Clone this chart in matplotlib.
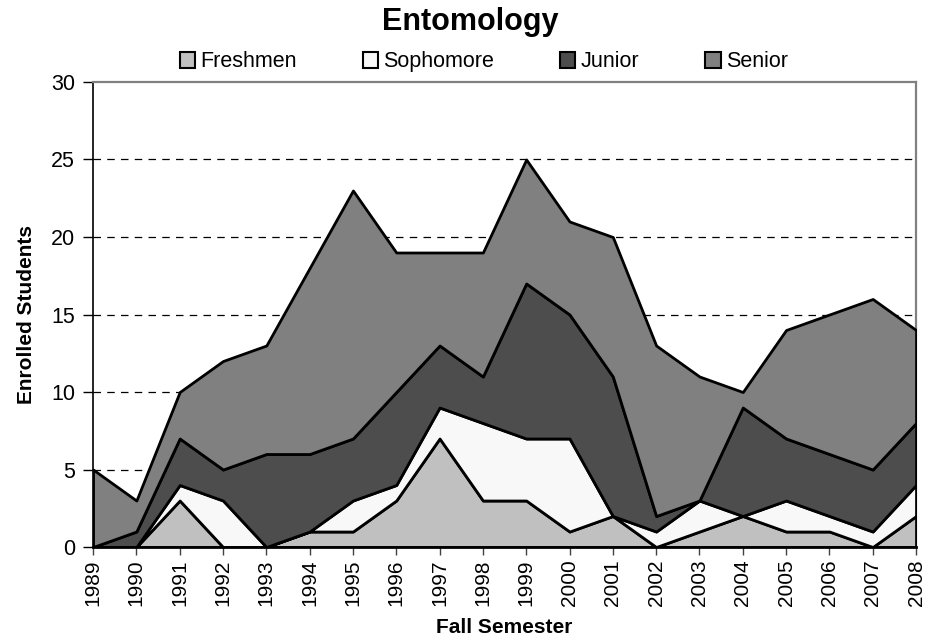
import matplotlib
matplotlib.use("Agg")
import matplotlib.pyplot as plt
from matplotlib.patches import Patch

plt.rcParams['font.family'] = ['Liberation Sans', 'DejaVu Sans']

years = list(range(1989, 2009))
freshmen = [0, 0, 3, 0, 0, 1, 1, 3, 7, 3, 3, 1, 2, 0, 1, 2, 1, 1, 0, 2]
sophomore = [0, 0, 1, 3, 0, 0, 2, 1, 2, 5, 4, 6, 0, 1, 2, 0, 2, 1, 1, 2]
junior = [0, 1, 3, 2, 6, 5, 4, 6, 4, 3, 10, 8, 9, 1, 0, 7, 4, 4, 4, 4]
senior = [5, 2, 3, 7, 7, 12, 16, 9, 6, 8, 8, 6, 9, 11, 8, 1, 7, 9, 11, 6]

labels = ["Freshmen", "Sophomore", "Junior", "Senior"]
colors = ["#c0c0c0", "#f8f8f8", "#4d4d4d", "#808080"]

fig = plt.figure(figsize=(9.4, 6.38), dpi=100)
ax = fig.add_axes([0.099, 0.1426, 0.8755, 0.7289])

# stacked areas, black outline on every layer
ax.stackplot(years, freshmen, sophomore, junior, senior, colors=colors,
             edgecolor="black", linewidth=2, zorder=3)

ax.set_xlim(1989, 2008)
ax.set_ylim(0, 30)
ax.set_yticks(range(0, 31, 5))
ax.set_xticks(years)
ax.set_xticklabels([str(y) for y in years], rotation=90)
ax.tick_params(axis="y", labelsize=15.5, direction="out", length=7, width=1, pad=6)
ax.tick_params(axis="x", labelsize=15, direction="out", length=6, width=1,
               pad=3, color="#404040")

for y in range(5, 30, 5):
    ax.axhline(y, color="black", linestyle=(0, (6, 5)), linewidth=0.9, zorder=1)

ax.spines["left"].set_color("black")
ax.spines["bottom"].set_color("black")
ax.spines["left"].set_linewidth(1.2)
ax.spines["bottom"].set_linewidth(2)
ax.spines["bottom"].set_zorder(4)
ax.spines["top"].set_color("#808080")
ax.spines["right"].set_color("#808080")
ax.spines["top"].set_linewidth(1.6)
ax.spines["right"].set_linewidth(1.6)

ax.set_xlabel("Fall Semester", fontsize=15, fontweight="bold", va="center")
ax.xaxis.set_label_coords(0.5, -0.172)
ax.set_ylabel("Enrolled Students", fontsize=15, fontweight="bold", labelpad=11)

fig.text(0.5, 0.9655, "Entomology", ha="center", va="center",
         fontsize=22, fontweight="bold")

handles = [Patch(facecolor=c, edgecolor="black", linewidth=1.5) for c in colors]
fig.legend(handles, labels, loc="center left", bbox_to_anchor=(0.191, 0.903),
           ncol=4, frameon=False, fontsize=15.5, handlelength=0.72,
           handleheight=0.72, handletextpad=0.25, columnspacing=3.05,
           borderaxespad=0, borderpad=0)

fig.savefig("out.png", dpi=100)
